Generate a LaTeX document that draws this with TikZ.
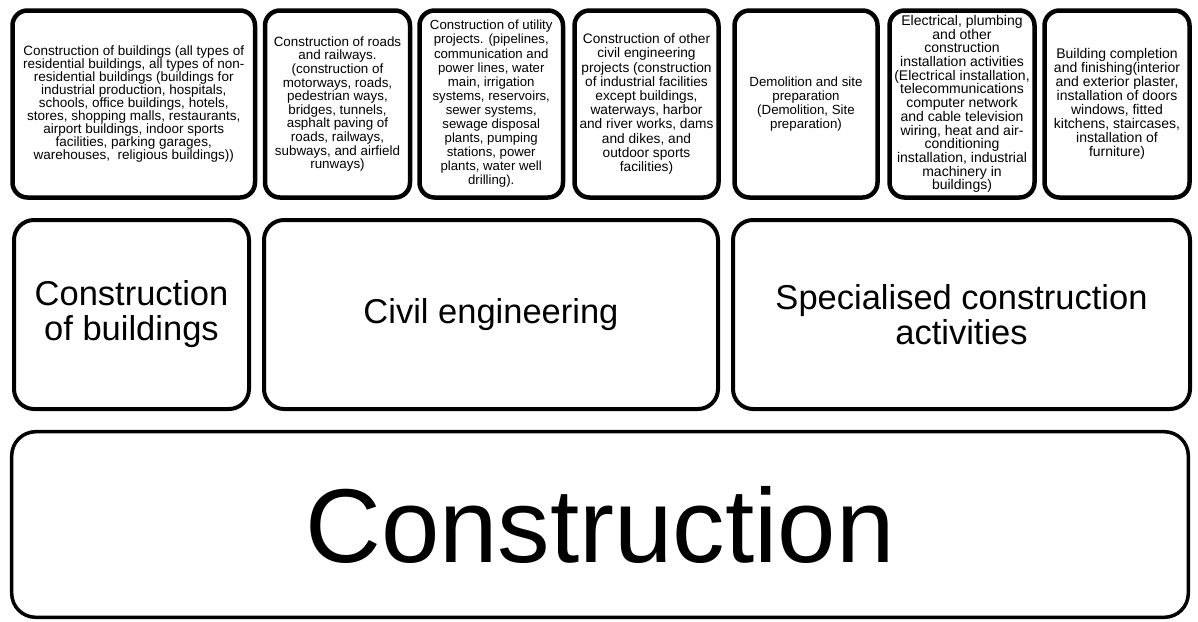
\documentclass[tikz,border=0pt]{standalone}
\usepackage{fontspec}
\setmainfont{Liberation Sans}
\usetikzlibrary{shadows}
\begin{document}
\begin{tikzpicture}[x=1pt,y=-1pt,
  boxbase/.style={draw=black, fill=white, inner sep=0pt, align=center,
    drop shadow={shadow xshift=1.2pt, shadow yshift=-1.2pt, opacity=0.35, fill=black!60}},
  topbox/.style={boxbase, line width=4.5pt, rounded corners=15pt,
    font=\fontsize{13.4}{13.8}\selectfont},
  midbox/.style={boxbase, line width=4pt, rounded corners=20pt,
    font=\fontsize{34.5}{35}\selectfont},
  botbox/.style={boxbase, line width=3.5pt, rounded corners=24pt,
    font=\fontsize{105}{110}\selectfont}
]
\useasboundingbox (0,0) rectangle (1198,621);
\fill[white] (0,0) rectangle (1198,621);

% helper: node with given stroke-centre rectangle
\newcommand{\mybox}[7]{%
  \node[#1, minimum width={#4-#3}, minimum height={#6-#5}] (#2) at ({(#3+#4)/2},{(#5+#6)/2}) {#7};}

% top row
\mybox{topbox,font=\fontsize{13.5}{13}\selectfont}{t1}{12.5}{255}{10.5}{197.5}{Construction of buildings (all types of\\residential buildings, all types of non-\\residential buildings (buildings for\\industrial production, hospitals,\\schools, office buildings, hotels,\\stores, shopping malls, restaurants,\\airport buildings, indoor sports\\facilities, parking garages,\\warehouses,\ \ religious buildings))}
\mybox{topbox,font=\fontsize{13.4}{13.6}\selectfont}{t2}{265}{410}{10.5}{197.5}{Construction of roads\\and railways.\\(construction of\\motorways, roads,\\pedestrian ways,\\bridges, tunnels,\\asphalt paving of\\roads, railways,\\subways, and airfield\\runways)}
\mybox{topbox,font=\fontsize{13.2}{14.1}\selectfont}{t3}{419.5}{563}{10.5}{197.5}{Construction of utility\\projects. (pipelines,\\communication and\\power lines, water\\main, irrigation\\systems, reservoirs,\\sewer systems,\\sewage disposal\\plants, pumping\\stations, power\\plants, water well\\drilling).}
\mybox{topbox,font=\fontsize{13.7}{14.2}\selectfont}{t4}{574.5}{718.5}{10.5}{197.5}{Construction of other\\civil engineering\\projects (construction\\of industrial facilities\\except buildings,\\waterways, harbor\\and river works, dams\\and dikes, and\\outdoor sports\\facilities)}
\mybox{topbox,font=\fontsize{13.3}{13.9}\selectfont}{t5}{734.5}{877.5}{10.5}{197.5}{Demolition and site\\preparation\\(Demolition, Site\\preparation)}
\mybox{topbox,font=\fontsize{14}{13.7}\selectfont}{t6}{889.5}{1034.5}{10.5}{197.5}{Electrical, plumbing\\and other\\construction\\installation activities\\(Electrical installation,\\telecommunications\\computer network\\and cable television\\wiring, heat and air-\\conditioning\\installation, industrial\\machinery in\\buildings)}
\mybox{topbox,font=\fontsize{14}{14}\selectfont}{t7}{1044.5}{1189.5}{10.5}{197.5}{Building completion\\and finishing(interior\\and exterior plaster,\\installation of doors\\windows, fitted\\kitchens, staircases,\\installation of\\furniture)}

% middle row
\mybox{midbox}{m1}{14}{249}{220}{409}{Construction\\of buildings}
\mybox{midbox}{m2}{264}{718}{220}{409}{Civil engineering}
\mybox{midbox}{m3}{733}{1190}{220}{409}{Specialised construction\\activities}

% bottom
\mybox{botbox}{b1}{11.7}{1188.3}{431.7}{617.3}{Construction}
\end{tikzpicture}
\end{document}
